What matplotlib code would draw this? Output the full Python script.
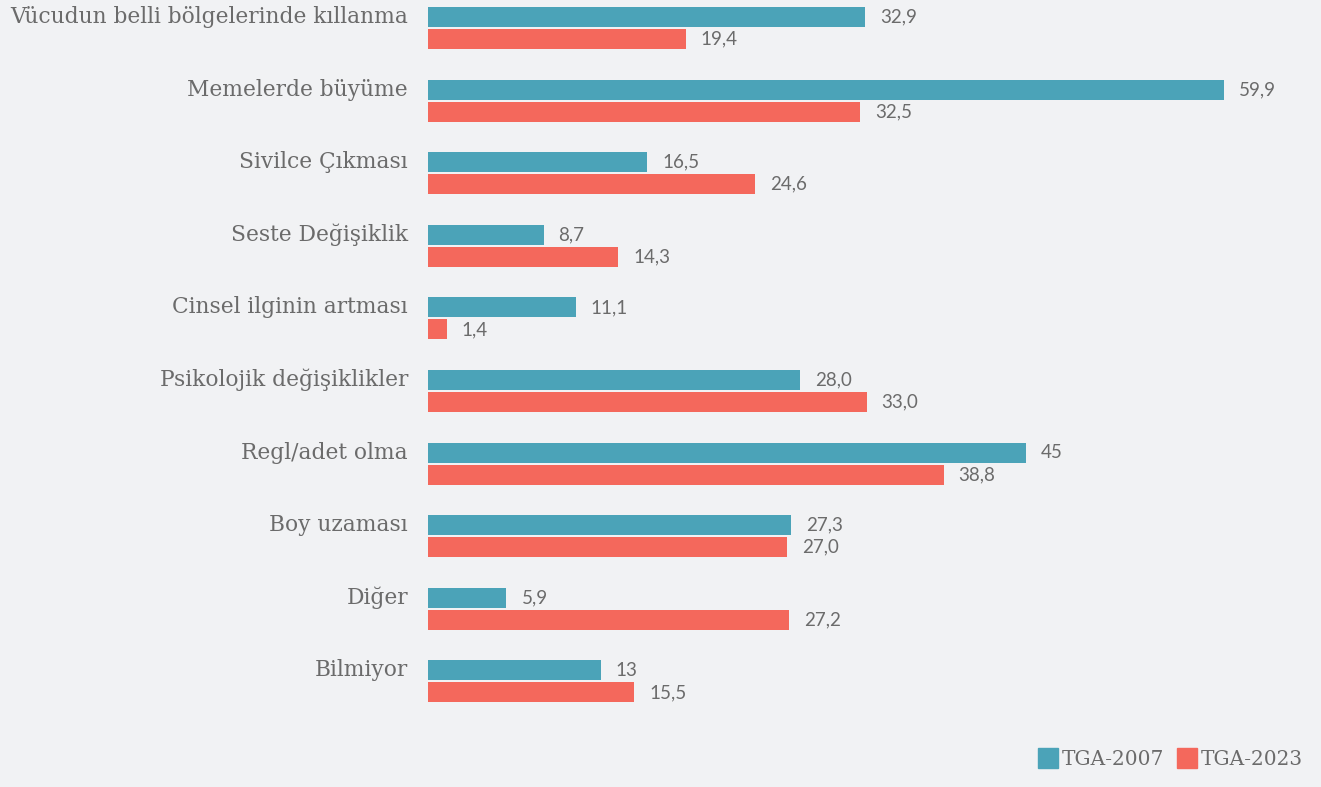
import matplotlib
matplotlib.use('Agg')
import matplotlib.pyplot as plt
from matplotlib.patches import Patch

categories = ['Vücudun belli bölgelerinde kıllanma', 'Memelerde büyüme', 'Sivilce Çıkması',
              'Seste Değişiklik', 'Cinsel ilginin artması', 'Psikolojik değişiklikler',
              'Regl/adet olma', 'Boy uzaması', 'Diğer', 'Bilmiyor']
tga2007 = [32.9, 59.9, 16.5, 8.7, 11.1, 28.0, 45, 27.3, 5.9, 13]
tga2023 = [19.4, 32.5, 24.6, 14.3, 1.4, 33.0, 38.8, 27.0, 27.2, 15.5]
labels2007 = ['32,9', '59,9', '16,5', '8,7', '11,1', '28,0', '45', '27,3', '5,9', '13']
labels2023 = ['19,4', '32,5', '24,6', '14,3', '1,4', '33,0', '38,8', '27,0', '27,2', '15,5']

bg = '#f1f2f4'
teal = '#4ba3b8'
red = '#f4685c'
grey = '#6b6b6b'

W, H = 1321, 787
fig = plt.figure(figsize=(W / 100, H / 100), dpi=100, facecolor=bg)
ax = fig.add_axes([428 / W, 0, (W - 428) / W, 1])
ax.set_facecolor(bg)

px_per_cat = 72.6
bh = 20 / px_per_cat
off = 11 / px_per_cat
y = list(range(len(categories)))

ax.barh([v - off for v in y], tga2007, height=bh, color=teal)
ax.barh([v + off for v in y], tga2023, height=bh, color=red)

px_per_unit = 796 / 59.9
ax.set_xlim(0, (W - 428) / px_per_unit)
ax.set_ylim((H - 28) / px_per_cat, -28 / px_per_cat)

gap = 15 / px_per_unit
for i in y:
    ax.text(tga2007[i] + gap, i - off, labels2007[i], va='center', ha='left',
            fontsize=13.5, color=grey, family='Lato')
    ax.text(tga2023[i] + gap, i + off, labels2023[i], va='center', ha='left',
            fontsize=13.5, color=grey, family='Lato')
    ax.text(-20 / px_per_unit, i - off, categories[i], va='center', ha='right',
            fontsize=15.7, color=grey, family='DejaVu Serif')

for s in ax.spines.values():
    s.set_visible(False)
ax.set_xticks([])
ax.set_yticks([])

handles = [Patch(color=teal, label='TGA-2007'), Patch(color=red, label='TGA-2023')]
fig.legend(handles=handles, loc='lower right', bbox_to_anchor=(1.0, 0.0), ncol=2,
           frameon=False, handlelength=1.0, handleheight=1.2, handletextpad=0.2,
           columnspacing=0.6, prop={'family': 'DejaVu Serif', 'size': 14.5},
           labelcolor=grey)

fig.savefig('out.png', dpi=100, facecolor=bg)
